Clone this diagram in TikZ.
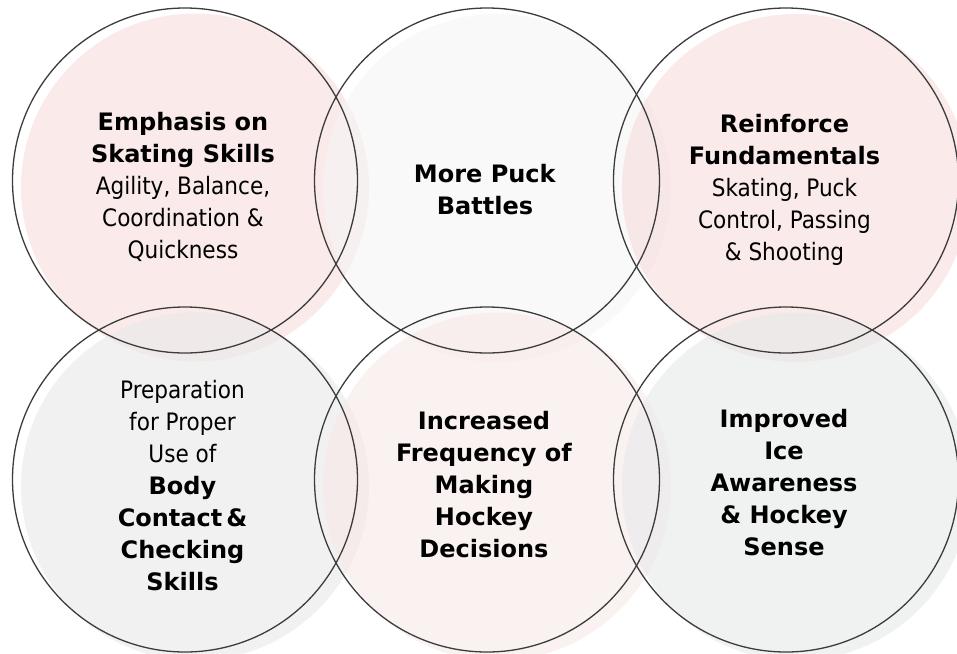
\documentclass[tikz,border=0pt]{standalone}
\usepackage{fontspec}
\setmainfont{DejaVu Sans Condensed}[BoldFont={DejaVu Sans Bold}]
\definecolor{pinkf}{RGB}{247,220,220}
\definecolor{lightf}{RGB}{245,245,245}
\definecolor{grayf}{RGB}{233,233,233}
\definecolor{pinklf}{RGB}{248,232,232}
\definecolor{grayg}{RGB}{231,233,233}
\definecolor{edge}{RGB}{60,60,60}
\tikzset{
  disc/.style={circle, minimum size=348pt, inner sep=0pt, fill opacity=0.6},
  ring/.style={circle, draw=edge, line width=1.3pt, minimum size=345pt, inner sep=0pt},
  label/.style={anchor=base, align=center, font=\fontsize{24}{32}\selectfont, text=black}
}
\begin{document}
\begin{tikzpicture}[x=1pt,y=-1pt]
\useasboundingbox (0,0) rectangle (957,653);
\clip (0,0) rectangle (957,653);
\fill[white] (0,0) rectangle (957,653);
% soft fills
\node[disc, fill=pinkf]  (f1) at (195,187.5) {};
\node[disc, fill=lightf] (f2) at (497,188) {};
\node[disc, fill=pinkf]  (f3) at (796,188) {};
\node[disc, fill=grayf]  (f4) at (195,486.5) {};
\node[disc, fill=pinklf] (f5) at (497,486.5) {};
\node[disc, fill=grayg]  (f6) at (796,486.5) {};
% outlines
\node[ring] (c1) at (185,180.5) {};
\node[ring] (c2) at (487,180.5) {};
\node[ring] (c3) at (786,180.5) {};
\node[ring] (c4) at (185,479.5) {};
\node[ring] (c5) at (487,479.5) {};
\node[ring] (c6) at (786,479.5) {};
% texts (anchor base = baseline of last line)
\node[label] (t1) at (183,258) {\textbf{Emphasis on}\\\textbf{Skating Skills}\\Agility, Balance,\\Coordination \&\\Quickness};
\node[label] (t2) at (485,214) {\textbf{More Puck}\\\textbf{Battles}};
\node[label] (t3) at (784.5,260) {\textbf{Reinforce}\\\textbf{Fundamentals}\\Skating, Puck\\Control, Passing\\\& Shooting};
\node[label] (t4) at (182.5,590) {Preparation\\for Proper\\Use of\\\textbf{Body}\\\textbf{Contact\,\&}\\\textbf{Checking}\\\textbf{Skills}};
\node[label] (t5) at (484,557) {\textbf{Increased}\\\textbf{Frequency of}\\\textbf{Making}\\\textbf{Hockey}\\\textbf{Decisions}};
\node[label] (t6) at (784,555) {\textbf{Improved}\\\textbf{Ice}\\\textbf{Awareness}\\\textbf{\& Hockey}\\\textbf{Sense}};
\end{tikzpicture}
\end{document}
